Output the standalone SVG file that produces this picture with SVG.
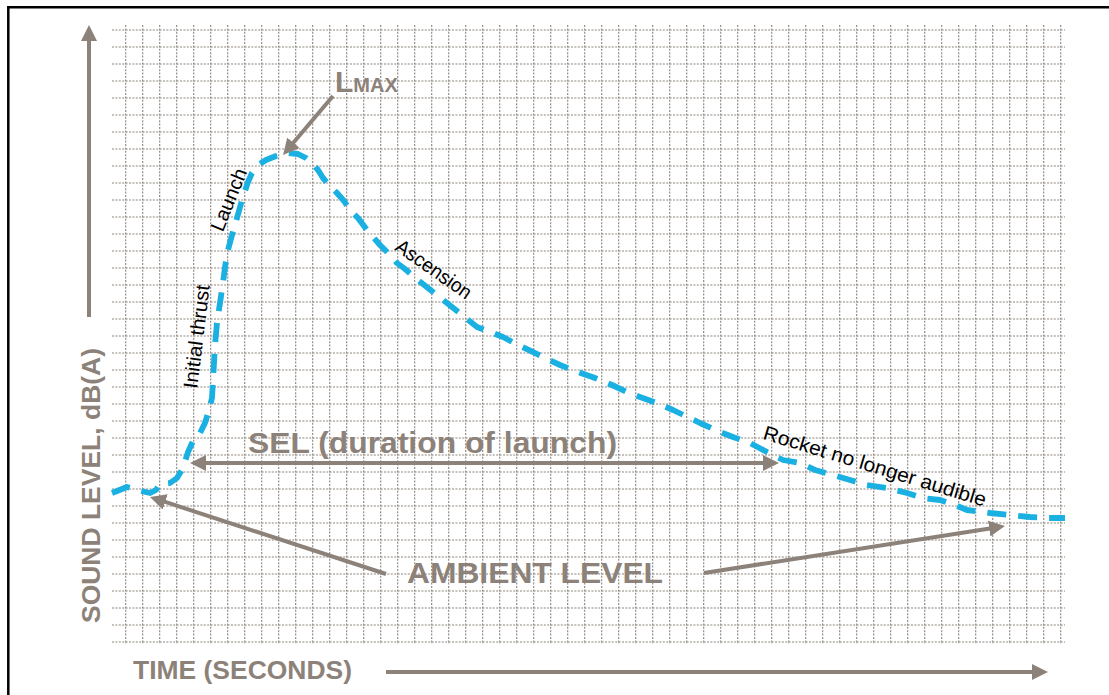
<svg xmlns="http://www.w3.org/2000/svg" width="1109" height="695" viewBox="0 0 1109 695">
<style>
.grid{fill:none;stroke:#8c837b;stroke-width:1.1;stroke-dasharray:2 1.4}
.arr{fill:none;stroke:#8c8279;stroke-width:4}
.gt{fill:#8c8279;font-family:"Liberation Sans",Arial,sans-serif;font-weight:bold}
.lbl{fill:#000;font-family:"Liberation Sans",Arial,sans-serif;font-size:20px;text-anchor:middle}
.curve{fill:none;stroke:#1ab0e2;stroke-width:5.8;stroke-dasharray:19 12;stroke-linejoin:round}
</style>
<defs>
<marker id="ah" markerUnits="userSpaceOnUse" markerWidth="16" markerHeight="16" refX="4" refY="8" orient="auto-start-reverse" viewBox="0 0 16 16">
<path d="M0,0 L16,8 L0,16 z" fill="#8c8279"/>
</marker>
</defs>
<rect x="0" y="0" width="1109" height="695" fill="#fff"/>
<path d="M8.3,695 V7.3 H1109" fill="none" stroke="#000" stroke-width="2.5"/>
<g id="grid">
<path class="grid" d="M112,30H1065M112,47H1065M112,64H1065M112,81H1065M112,98H1065M112,115H1065M112,132H1065M112,149H1065M112,166H1065M112,183H1065M112,200H1065M112,217H1065M112,234H1065M112,251H1065M112,268H1065M112,285H1065M112,302H1065M112,319H1065M112,336H1065M112,353H1065M112,370H1065M112,387H1065M112,404H1065M112,421H1065M112,438H1065M112,455H1065M112,472H1065M112,489H1065M112,506H1065M112,523H1065M112,540H1065M112,557H1065M112,574H1065M112,591H1065M112,608H1065M112,625H1065M112,642H1065"/>
<path class="grid" d="M125.7,25V644M142.7,25V644M159.7,25V644M176.7,25V644M193.7,25V644M210.7,25V644M227.7,25V644M244.7,25V644M261.7,25V644M278.7,25V644M295.7,25V644M312.7,25V644M329.7,25V644M346.7,25V644M363.7,25V644M380.7,25V644M397.7,25V644M414.7,25V644M431.7,25V644M448.7,25V644M465.7,25V644M482.7,25V644M499.7,25V644M516.7,25V644M533.7,25V644M550.7,25V644M567.7,25V644M584.7,25V644M601.7,25V644M618.7,25V644M635.7,25V644M652.7,25V644M669.7,25V644M686.7,25V644M703.7,25V644M720.7,25V644M737.7,25V644M754.7,25V644M771.7,25V644M788.7,25V644M805.7,25V644M822.7,25V644M839.7,25V644M856.7,25V644M873.7,25V644M890.7,25V644M907.7,25V644M924.7,25V644M941.7,25V644M958.7,25V644M975.7,25V644M992.7,25V644M1009.7,25V644M1026.7,25V644M1043.7,25V644M1060.7,25V644"/>
</g>
<g id="sound-curve">
<path class="curve" d="M112,493 L127,487 L137,490 L150,493 L156,490 L160,484 L170,483 L177,478 L183,468 L188,452 L193,441 L200,433 L205,423 L209,410 L212,398 L213,380 L214,363 L215,345 L217,323 L220,303 L223,283 L225,267 L228,250 L232,235 L237,218 L242,200 L248,182 L252,173 L258,165 L266,160 L276,156 L288,153 L298,154 L306,158 L312,163 L318,170 L323,178 L330,186 L337,193 L344,201 L350,210 L358,218 L367,230 L380,245 L390,255 L397,263 L405,269 L418,280 L433,292 L447,303 L462,315 L477,327 L493,333 L503,337 L518,345 L533,352 L545,358 L560,365 L578,372 L595,378 L612,385 L627,392 L640,397 L657,403 L673,410 L700,423 L720,432 L733,437 L750,443 L767,452 L783,460 L800,463 L815,470 L833,475 L850,480 L867,485 L887,488 L907,493 L923,498 L940,500 L955,505 L967,510 L990,513 L1010,515 L1030,517 L1047,518 L1065,518"/>
</g>
<g id="connectors">
<path class="arr" d="M89,317 V37" marker-end="url(#ah)"/>
<path class="arr" d="M386,672 H1036" marker-end="url(#ah)"/>
<path class="arr" d="M202,463 H767" marker-start="url(#ah)" marker-end="url(#ah)"/>
<path class="arr" d="M386,574 L161.4,500.7" marker-end="url(#ah)"/>
<path class="arr" d="M704,573 L993.1,527.9" marker-end="url(#ah)"/>
<path class="arr" d="M333,96 L290.8,145.8" marker-end="url(#ah)"/>
</g>
<g id="axis-y-label">
<text class="gt" font-size="26.5" transform="translate(100,623) rotate(-90)" textLength="275" lengthAdjust="spacingAndGlyphs">SOUND LEVEL, dB(A)</text>
</g>
<g id="axis-x-label">
<text class="gt" font-size="26.5" x="133" y="679" textLength="219" lengthAdjust="spacingAndGlyphs">TIME (SECONDS)</text>
</g>
<g id="lmax">
<text class="gt" x="335" y="92"><tspan font-size="30">L</tspan><tspan font-size="20">MAX</tspan></text>
</g>
<g id="sel">
<text class="gt" font-size="30" x="248" y="453" textLength="369" lengthAdjust="spacingAndGlyphs">SEL (duration of launch)</text>
</g>
<g id="ambient">
<text class="gt" font-size="30" x="407" y="583" textLength="256" lengthAdjust="spacingAndGlyphs">AMBIENT LEVEL</text>
</g>
<g id="label-initial">
<text class="lbl" transform="translate(196.5,336.5) rotate(-83)" y="7" textLength="104" lengthAdjust="spacingAndGlyphs">Initial thrust</text>
</g>
<g id="label-launch">
<text class="lbl" transform="translate(228.5,199.5) rotate(-68)" y="7" textLength="66" lengthAdjust="spacingAndGlyphs">Launch</text>
</g>
<g id="label-ascension">
<text class="lbl" transform="translate(434,269) rotate(35)" y="7" textLength="88" lengthAdjust="spacingAndGlyphs">Ascension</text>
</g>
<g id="label-rocket">
<text class="lbl" transform="translate(875,466) rotate(17)" y="7" textLength="232" lengthAdjust="spacingAndGlyphs">Rocket no longer audible</text>
</g>
</svg>
